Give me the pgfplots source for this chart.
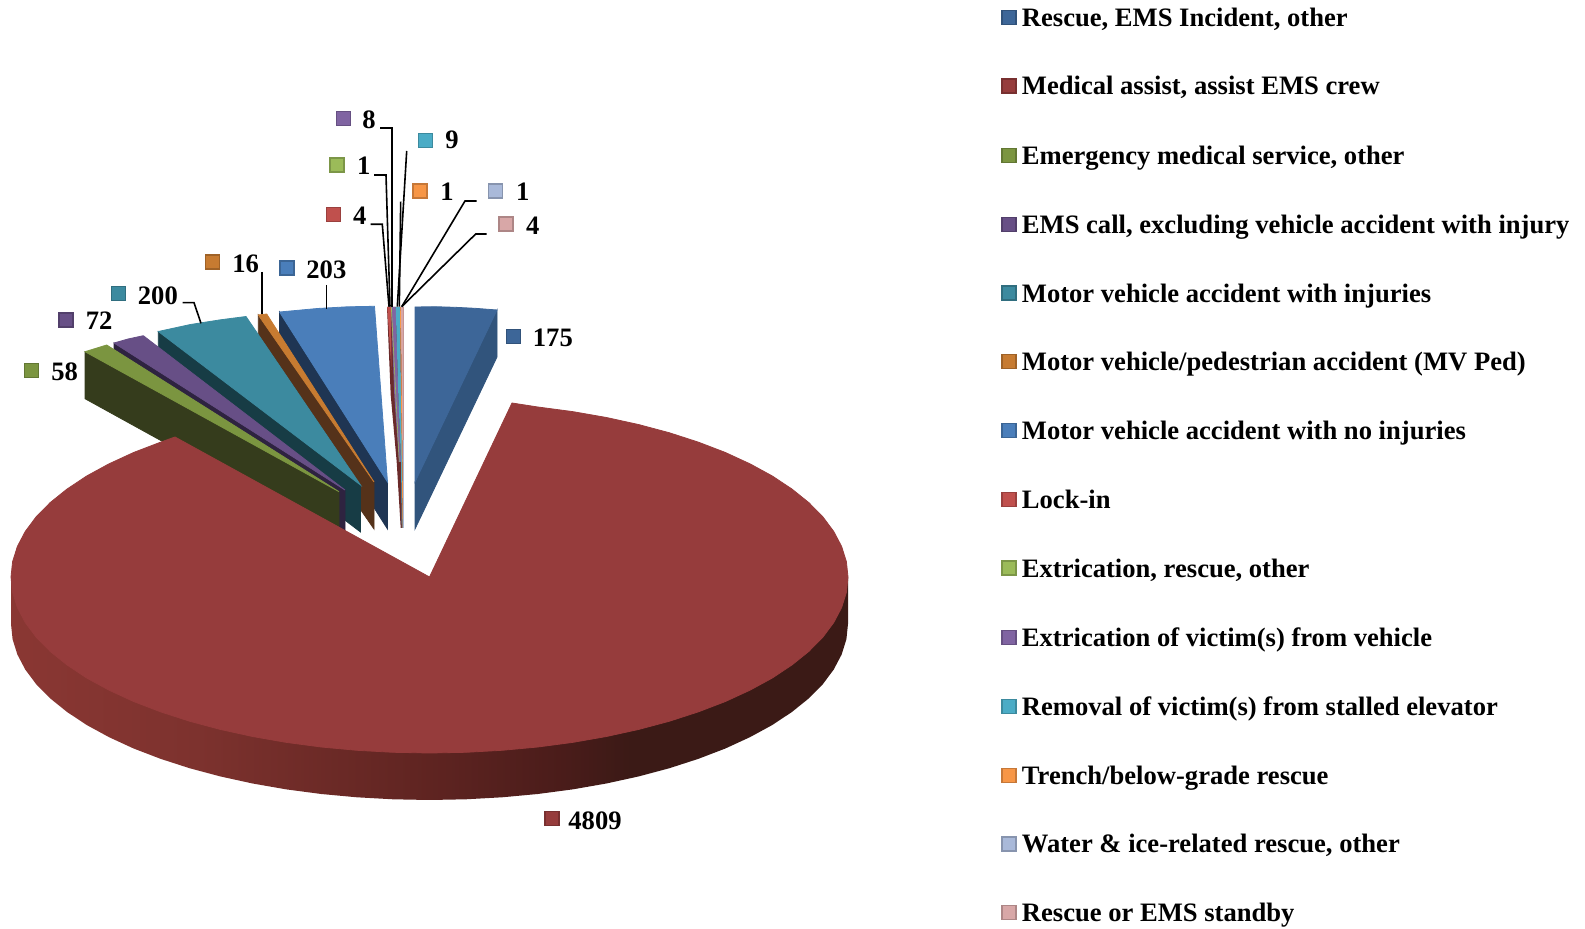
\documentclass[border=0pt]{standalone}
\usepackage{fontspec}
\setmainfont{Liberation Serif}
\usepackage{pgfplots}
\pgfplotsset{compat=1.18}

\definecolor{c1}{HTML}{3D6698}
\definecolor{c2}{HTML}{963C3C}
\definecolor{c3}{HTML}{7B9540}
\definecolor{c4}{HTML}{674F86}
\definecolor{c5}{HTML}{3C8A9F}
\definecolor{c6}{HTML}{C77B31}
\definecolor{c7}{HTML}{4A7EBA}
\definecolor{c8}{HTML}{C0504D}
\definecolor{c9}{HTML}{9BBB59}
\definecolor{c10}{HTML}{8064A2}
\definecolor{c11}{HTML}{4BACC6}
\definecolor{c12}{HTML}{F79646}
\definecolor{c13}{HTML}{A9B9D9}
\definecolor{c14}{HTML}{D8A7A7}
\definecolor{w1}{HTML}{31547C}
\definecolor{w3}{HTML}{353C1C}
\definecolor{w4}{HTML}{2E2340}
\definecolor{w5}{HTML}{173C45}
\definecolor{w6}{HTML}{55321A}
\definecolor{w7}{HTML}{1F3553}
\definecolor{w8}{HTML}{6A2A2A}
\definecolor{s0}{HTML}{8A3733}
\definecolor{s1}{HTML}{7D322E}
\definecolor{s2}{HTML}{5F2421}
\definecolor{s3}{HTML}{4A1C1A}
\definecolor{s4}{HTML}{3B1A16}

\pgfdeclarehorizontalshading{pieside}{100bp}{
 color(0bp)=(s0); color(25bp)=(s0); color(36bp)=(s1); color(50bp)=(s2);
 color(58bp)=(s3); color(62bp)=(s4); color(100bp)=(s4)}

\newcommand{\lab}[3]{\node[anchor=base west,inner sep=0pt,font=\fontsize{13.3}{16}\selectfont\bfseries] at (axis cs:#1,#2) {#3};}

\begin{document}
\begin{tikzpicture}
\useasboundingbox (0,0) rectangle (792.5pt,464.5pt);
\begin{axis}[scale only axis,width=792.5pt,height=464.5pt,hide axis,clip=false,
 xmin=0,xmax=1585,ymin=0,ymax=929,y dir=reverse]

% slice 175
\addplot[fill=w1,draw=w1,thin] coordinates {(415,482) (497,310) (497,357) (415,529)} -- cycle;
\addplot[fill=c1,draw=c1,thin] coordinates {(415,307) (435,306.7) (455,307.3) (475,308.3) (497,310) (415,482)} -- cycle;

% the thin slices, 4 1 8 9 1 1 4
\addplot[fill=w8,draw=none] coordinates {(387,307) (390.7,395) (396.7,462) (400.7,528) (403.5,528) (403.5,307)} -- cycle;
\addplot[fill=c8,draw=none] coordinates {(387.2,307) (391,307) (391.5,370)} -- cycle;
\addplot[fill=c10,draw=none] coordinates {(391,307) (395.7,307) (398.3,395) (401,462) (399,462) (394.3,395)} -- cycle;
\addplot[fill=c9,draw=none] coordinates {(391,307) (391.7,307) (399.5,462) (399,462)} -- cycle;
\addplot[fill=c11,draw=none] coordinates {(395.7,307) (400,307) (401,395) (402.3,462) (402.6,528) (401.8,528) (401,462) (398.3,395)} -- cycle;
\addplot[fill=c14,draw=none] coordinates {(400.7,307) (403.5,307) (403.5,462) (402.5,462)} -- cycle;
\addplot[fill=c12,draw=none] coordinates {(400,307) (400.7,307) (403.3,528) (402.6,528)} -- cycle;
\addplot[fill=c13,draw=none] coordinates {(403.3,440) (403.7,440) (403.7,528) (403.3,528)} -- cycle;

% slice 203
\addplot[fill=w7,draw=w7,thin] coordinates {(279.5,312) (387.5,482) (387.5,529) (279.5,359)} -- cycle;
\addplot[fill=c7,draw=c7,thin] coordinates {(279.5,312) (317.5,308.5) (347.5,306.8) (374.5,306.3) (387.5,482)} -- cycle;

% slice 16
\addplot[fill=w6,draw=w6,thin] coordinates {(258.3,315) (374,482) (374,529) (258.3,362)} -- cycle;
\addplot[fill=c6,draw=c6,thin] coordinates {(258.3,315) (266.7,314) (374,482)} -- cycle;

% slice 200
\addplot[fill=w5,draw=w5,thin] coordinates {(158.3,331.5) (360.5,485) (360.5,532) (158.3,378.5)} -- cycle;
\addplot[fill=c5,draw=c5,thin] coordinates {(158.3,331.5) (190.5,324.5) (220.5,319.8) (246,316.5) (360.5,485)} -- cycle;

% slice 72
\addplot[fill=w4,draw=w4,thin] coordinates {(114,343) (345,490) (345,537) (114,390)} -- cycle;
\addplot[fill=c4,draw=c4,thin] coordinates {(114,343) (128,339) (143.3,335.7) (345,490)} -- cycle;

% slice 58
\addplot[fill=w3,draw=w3,thin] coordinates {(85,351.7) (339,491.7) (339,538.7) (85,398.7)} -- cycle;
\addplot[fill=c3,draw=c3,thin] coordinates {(85,351.7) (106.7,345) (339,491.7)} -- cycle;

% slice 4809, rim then top
\addplot[shading=pieside,draw=none] coordinates {(11,577) (11,624) (12.6,639.3) (17.4,654.6) (25.3,669.6) (36.2,684.2) (50.2,698.4) (67.1,712) (86.7,725) (108.9,737.1) (133.6,748.5) (160.5,758.8) (189.5,768.2) (220.2,776.4) (252.6,783.5) (286.4,789.4) (321.2,794) (356.9,797.3) (393,799.3) (429.5,800) (466,799.3) (502.1,797.3) (537.8,794) (572.6,789.4) (606.4,783.5) (638.8,776.4) (669.5,768.2) (698.5,758.8) (725.4,748.5) (750.1,737.1) (772.3,725) (791.9,712) (808.8,698.4) (822.8,684.2) (833.7,669.6) (841.6,654.6) (846.4,639.3) (848,624) (848,577)} -- cycle;
\addplot[fill=c2,draw=c2,thin] coordinates {(429.5,577) (512,403) (537.8,407) (572.6,411.6) (606.4,417.5) (638.8,424.6) (669.5,432.8) (698.5,442.2) (725.4,452.5) (750.1,463.9) (772.3,476) (791.9,489) (808.8,502.6) (822.8,516.8) (833.7,531.4) (841.6,546.4) (846.4,561.7) (848,577)
 (846.4,592.3) (841.6,607.6) (833.7,622.6) (822.8,637.2) (808.8,651.4) (791.9,665) (772.3,678) (750.1,690.1) (725.4,701.5) (698.5,711.8) (669.5,721.2) (638.8,729.4) (606.4,736.5) (572.6,742.4) (537.8,747) (502.1,750.3) (466,752.3) (429.5,753)
 (393,752.3) (356.9,750.3) (321.2,747) (286.4,742.4) (252.6,736.5) (220.2,729.4) (189.5,721.2) (160.5,711.8) (133.6,701.5) (108.9,690.1) (86.7,678) (67.1,665) (50.2,651.4) (36.2,637.2) (25.3,622.6) (17.4,607.6) (12.6,592.3) (11,577)
 (12.6,561.7) (17.4,546.4) (25.3,531.4) (36.2,516.8) (50.2,502.6) (67.1,489) (86.7,476) (108.9,463.9) (133.6,452.5) (160.5,442.2) (175,437)} -- cycle;

% leader lines
\addplot[black,line width=0.8pt] coordinates {(380,128.3) (391.7,128.3) (391.7,306.7)};
\addplot[black,line width=0.8pt] coordinates {(374,175) (386,175) (390,306.7)};
\addplot[black,line width=0.8pt] coordinates {(370.7,224.3) (382.3,224.3) (389,306.7)};
\addplot[black,line width=0.8pt] coordinates {(406.7,151) (397.3,306.7)};
\addplot[black,line width=0.8pt] coordinates {(400.7,201.7) (399.3,306.7)};
\addplot[black,line width=0.8pt] coordinates {(476.7,201) (465,201) (401.7,306.7)};
\addplot[black,line width=0.8pt] coordinates {(486.7,234) (475.7,234) (401.7,306.7)};
\addplot[black,line width=0.8pt] coordinates {(326.3,285) (326.3,309)};
\addplot[black,line width=0.8pt] coordinates {(262,272) (262,314)};
\addplot[black,line width=0.8pt] coordinates {(182.7,302.7) (194,302.7) (201,323.3)};

% keys, one at the legend row and one at the data label
\pgfplotsset{key/.style={only marks,mark=square*,mark size=3.5pt,mark options={fill=#1,draw=#1!80!black,line width=0.6pt}}}
\addplot[key=c1] coordinates {(1009,17.3) (513.5,336.6)};
\addplot[key=c2] coordinates {(1009,86) (552,818.7)};
\addplot[key=c3] coordinates {(1009,155.7) (31.7,370.7)};
\addplot[key=c4] coordinates {(1009,224.4) (66,320)};
\addplot[key=c5] coordinates {(1009,293.1) (118.3,293.3)};
\addplot[key=c6] coordinates {(1009,361.9) (212.3,262)};
\addplot[key=c7] coordinates {(1009,430.6) (287,268)};
\addplot[key=c8] coordinates {(1009,499.3) (333.7,214.3)};
\addplot[key=c9] coordinates {(1009,568.1) (337,165)};
\addplot[key=c10] coordinates {(1009,637.8) (343.3,118.3)};
\addplot[key=c11] coordinates {(1009,706.6) (425.7,140.7)};
\addplot[key=c12] coordinates {(1009,775.3) (420,191)};
\addplot[key=c13] coordinates {(1009,844) (495.7,191)};
\addplot[key=c14] coordinates {(1009,912.8) (506,224)};

% data labels
\lab{532.5}{346.5}{175}
\lab{568}{829.5}{4809}
\lab{51}{381}{58}
\lab{85.5}{330}{72}
\lab{137.5}{304.5}{200}
\lab{232}{272.5}{16}
\lab{306}{279}{203}
\lab{352.7}{224.5}{4}
\lab{356.7}{175}{1}
\lab{362}{128.5}{8}
\lab{445}{149}{9}
\lab{440}{201}{1}
\lab{515.7}{201}{1}
\lab{525.7}{234.5}{4}

% legend rows
\lab{1021.5}{26.3}{Rescue, EMS Incident, other}
\lab{1021.5}{95}{Medical assist, assist EMS crew}
\lab{1021.5}{164.7}{Emergency medical service, other}
\lab{1021.5}{233.4}{EMS call, excluding vehicle accident with injury}
\lab{1021.5}{302.1}{Motor vehicle accident with injuries}
\lab{1021.5}{370.9}{Motor vehicle/pedestrian accident (MV Ped)}
\lab{1021.5}{439.6}{Motor vehicle accident with no injuries}
\lab{1021.5}{508.3}{Lock-in}
\lab{1021.5}{577.1}{Extrication, rescue, other}
\lab{1021.5}{646.8}{Extrication of victim(s) from vehicle}
\lab{1021.5}{715.6}{Removal of victim(s) from stalled elevator}
\lab{1021.5}{784.3}{Trench/below-grade rescue}
\lab{1021.5}{853}{Water \& ice-related rescue, other}
\lab{1021.5}{921.8}{Rescue or EMS standby}
\end{axis}
\end{tikzpicture}
\end{document}
